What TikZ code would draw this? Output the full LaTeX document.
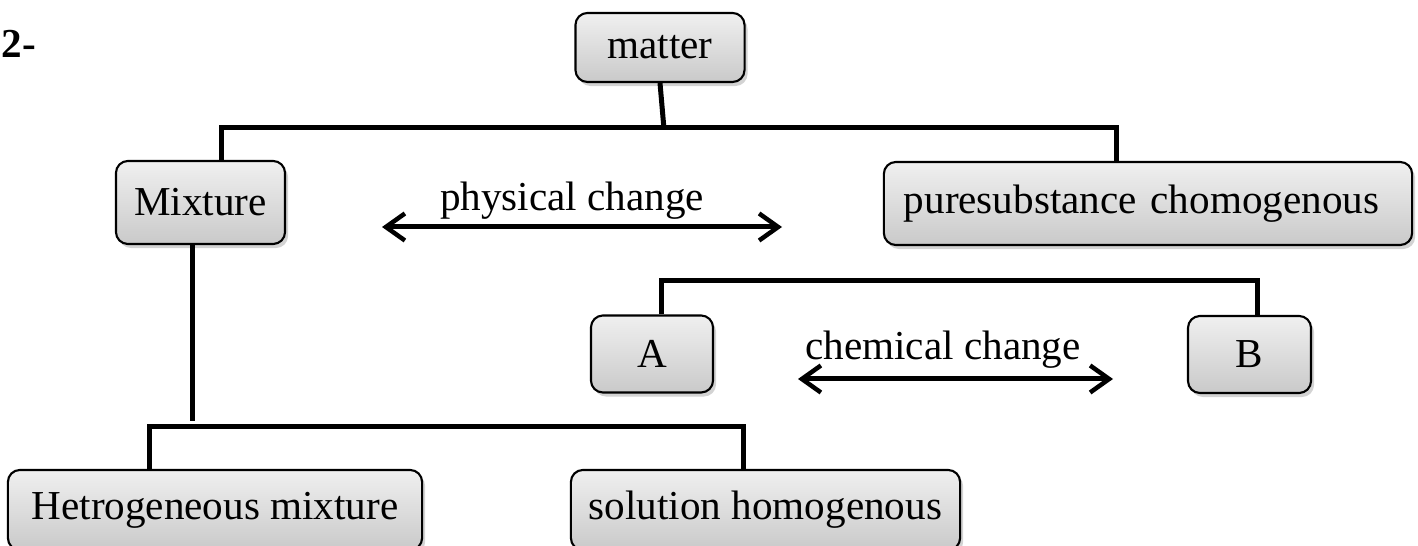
\documentclass[tikz,border=0pt]{standalone}
\usepackage{fontspec}
\setmainfont{Liberation Serif}
\usetikzlibrary{arrows.meta,shadows}
\tikzset{
  box/.style={draw=black,line width=0.6pt,rounded corners=0.12cm,
    top color=gray!12,bottom color=gray!42,
    drop shadow={shadow xshift=0.03cm,shadow yshift=-0.04cm,opacity=0.35,fill=gray},
    font=\fontsize{11.7}{13}\selectfont,inner sep=0pt},
  conn/.style={line width=0.05cm},
  dbl/.style={line width=0.05cm,{Straight Barb[length=0.19cm,width=0.27cm,line width=0.045cm]}-{Straight Barb[length=0.19cm,width=0.27cm,line width=0.045cm]}},
  lbl/.style={font=\fontsize{11.7}{13}\selectfont,inner sep=0pt}
}
\begin{document}
\begin{tikzpicture}[x=0.01cm,y=-0.01cm]
\useasboundingbox (0,0) rectangle (1418,546);
\node [lbl,anchor=west,font=\fontsize{11.7}{13}\selectfont\bfseries] (num) at (1,44) {2-};
\node [box,minimum width=1.69cm,minimum height=0.69cm] (matter) at (660,47.5) {matter};
\node [box,minimum width=1.69cm,minimum height=0.83cm] (mix) at (200.5,202.5) {Mixture};
\node [box,minimum width=5.28cm,minimum height=0.83cm,text width=4.88cm,align=left] (pure) at (1148,203.5) {puresubstance chomogenous};
\node [box,minimum width=1.22cm,minimum height=0.77cm] (a) at (652,354) {A};
\node [box,minimum width=1.23cm,minimum height=0.77cm] (b) at (1249.5,354.5) {B};
\node [box,minimum width=4.14cm,minimum height=0.80cm] (het) at (215,510) {Hetrogeneous mixture};
\node [box,minimum width=3.89cm,minimum height=0.80cm] (sol) at (765.5,510) {solution homogenous};
\draw [conn] (matter.south) -- ++(4,46);
\draw [conn] ([xshift=0.21cm]mix.north) |- ([xshift=-0.31cm]pure.north |- 0,128) -- ([xshift=-0.31cm]pure.north);
\draw [conn] ([xshift=-0.08cm]mix.south) -- ++(0,176);
\draw [conn] ([xshift=-0.65cm]het.north) |- ([xshift=-0.22cm]sol.north |- 0,427) -- ([xshift=-0.22cm]sol.north);
\draw [conn] ([xshift=0.09cm]a.north) |- ([xshift=0.075cm]b.north |- 0,281) -- ([xshift=0.075cm]b.north);
\coordinate (p1) at (382,227);
\coordinate (p2) at (782,227);
\draw [dbl] (p1) -- (p2);
\node [lbl] (phys) at (572,201) {physical change};
\coordinate (c1) at (798,379);
\coordinate (c2) at (1113,379);
\draw [dbl] (c1) -- (c2);
\node [lbl] (chem) at (943,350) {chemical change};
\end{tikzpicture}
\end{document}
